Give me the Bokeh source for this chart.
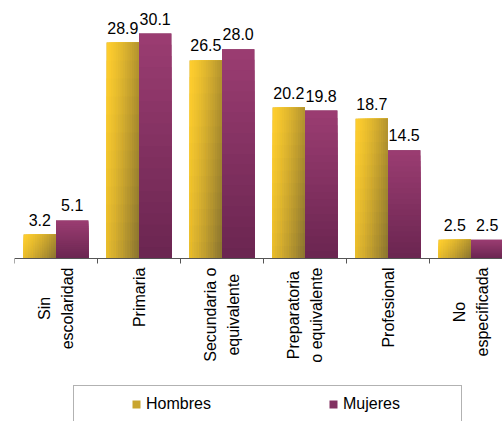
import math
import numpy as np
from bokeh.plotting import figure
from bokeh.models import ColumnDataSource, Range1d, LabelSet, Legend, LegendItem, Span
from bokeh.core.properties import value
from bokeh.embed import file_html
from bokeh.resources import INLINE

# ---- data ----
categories = ["Sin\nescolaridad", "Primaria", "Secundaria o\nequivalente",
              "Preparatoria\no equivalente", "Profesional", "No\nespecificada"]
hombres = [3.2, 28.9, 26.5, 20.2, 18.7, 2.5]
mujeres = [5.1, 30.1, 28.0, 19.8, 14.5, 2.5]
series_names = ["Hombres", "Mujeres"]

FONT = "Liberation Sans"
BAR_W = 0.39
OFF = 0.195
H_TOP, H_BOT = (255, 206, 46), (135, 114, 48)
M_TOP, M_BOT = (155, 61, 114), (106, 37, 80)

W, H = 502, 421
LEFT = 14
AXIS_PX = 258          # axis position from top of the canvas
PX_PER_UNIT = 7.472
Y_END = AXIS_PX / PX_PER_UNIT
Y_START = -(H - AXIS_PX) / PX_PER_UNIT
CAT_PX = 83


def lerp(c0, c1, t):
    return "#%02x%02x%02x" % tuple(int(round(a + (b - a) * t)) for a, b in zip(c0, c1))


n = len(categories)
xc = np.arange(n) + 0.5
xh = xc - OFF
xm = xc + OFF

p = figure(width=W, height=H, output_backend="svg", toolbar_location=None,
           x_range=Range1d(0, (W - LEFT) / CAT_PX), y_range=Range1d(Y_START, Y_END),
           min_border_left=LEFT, min_border_right=0, min_border_top=0, min_border_bottom=0,
           x_axis_type=None, y_axis_type=None)
p.outline_line_color = None
p.grid.visible = False
p.background_fill_color = "white"
p.border_fill_color = "white"

base_h = p.vbar(x=xh, top=hombres, width=BAR_W, fill_color=lerp(H_TOP, H_BOT, 0.45), line_color=None)
base_m = p.vbar(x=xm, top=mujeres, width=BAR_W, fill_color=lerp(M_TOP, M_BOT, 0.5), line_color=None)

# gradient overlays: overlapping cells (each reaches the bar's right edge and base)
NX, NY = 14, 12
L, R, T, B, C = [], [], [], [], []
for x0, v in zip(xh, hombres):
    right = x0 + BAR_W / 2
    for i in range(NX):
        for j in range(NY):
            L.append(x0 - BAR_W / 2 + BAR_W * i / NX)
            R.append(right)
            T.append(v * (1 - j / NY))
            B.append(0)
            t = 0.7 * (i + 0.5) / NX + 0.3 * (j + 0.5) / NY
            C.append(lerp(H_TOP, H_BOT, t ** 1.3))
NM = 20
for x0, v in zip(xm, mujeres):
    for j in range(NM):
        L.append(x0 - BAR_W / 2)
        R.append(x0 + BAR_W / 2)
        T.append(v * (1 - j / NM))
        B.append(0)
        C.append(lerp(M_TOP, M_BOT, (j + 0.5) / NM))
p.quad(left=L, right=R, top=T, bottom=B, fill_color=C, line_color=None)

# value labels
lab_src = ColumnDataSource(dict(
    x=list(xh) + list(xm),
    y=hombres + mujeres,
    text=["%.1f" % v for v in hombres + mujeres],
))
p.add_layout(LabelSet(x="x", y="y", text="text", source=lab_src, y_offset=9,
                      text_align="center", text_baseline="alphabetic",
                      text_font=value(FONT), text_font_size=value("16px"),
                      text_color=value("#000000")))

# category axis (line, boundary ticks, labels)
AX_COLOR = "#555555"
p.add_layout(Span(location=0, dimension="width", line_color=AX_COLOR, line_width=1))
bounds = list(range(n + 1))
p.segment(x0=bounds, y0=[0] * len(bounds), x1=bounds, y1=[-5 / PX_PER_UNIT] * len(bounds),
          line_color=AX_COLOR, line_width=1)
p.text(x=xc, y=[0] * n, text=categories, angle=math.pi / 2, y_offset=9,
       anchor="center_right", text_align="center",
       text_font=value(FONT), text_font_size="16px", text_color="#000000",
       text_line_height=1.3)

legend = Legend(items=[LegendItem(label=value(series_names[0]), renderers=[base_h]),
                       LegendItem(label=value(series_names[1]), renderers=[base_m])],
                orientation="horizontal", location=(59, -2), padding=8, spacing=72,
                glyph_width=10, glyph_height=10, label_standoff=5,
                label_width=110, label_height=20,
                label_text_font=FONT, label_text_font_size="16px",
                label_text_color="#000000",
                border_line_color="#666666", border_line_width=1,
                margin=0,
                title="X", title_location="left", title_text_alpha=0,
                title_text_font_size="16px", title_standoff=31)
p.add_layout(legend, "center")

open("out.html", "w").write(file_html(p, INLINE))
